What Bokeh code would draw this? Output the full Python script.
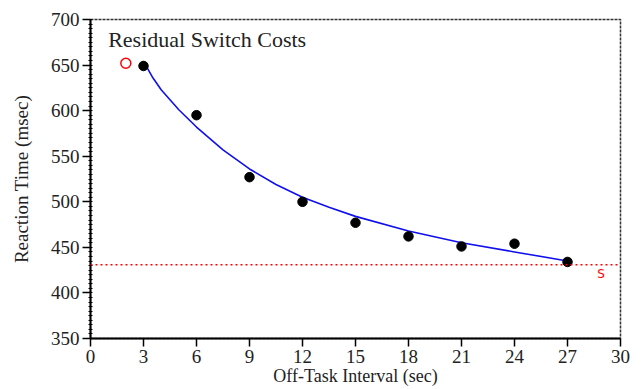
from bokeh.plotting import figure
from bokeh.models import FixedTicker, SingleIntervalTicker, Span
from bokeh.core.properties import value
from bokeh.embed import file_html
from bokeh.resources import INLINE

# Data
interval = [3, 6, 9, 12, 15, 18, 21, 24, 27]
rt = [649, 595, 527, 500, 477, 462, 451, 454, 434]

outlier_x = [2]
outlier_y = [652]

fit_x = [3, 3.5, 4, 5, 6, 7.5, 9, 10.5, 12, 13.5, 15, 18, 21, 24, 27]
fit_y = [654, 637, 623, 601, 582, 557, 536, 519, 505, 494, 484, 468, 455, 445, 435]

baseline_rt = 431
s_label_x = [28.9]
s_label_y = [421]
s_label = ["S"]

x_ticks = [0, 3, 6, 9, 12, 15, 18, 21, 24, 27, 30]

title_text = ["Residual Switch Costs"]
title_x = [1.0]
title_y = [692]

x_title = "Off-Task Interval (sec)"
y_title = "Reaction Time (msec)"

SERIF = "Liberation Serif"

p = figure(width=638, height=389, x_range=(0, 30), y_range=(350, 700),
           output_backend="svg", toolbar_location=None,
           min_border_left=90, min_border_right=18, min_border_top=19,
           min_border_bottom=51)
p.background_fill_color = "white"
p.border_fill_color = "white"
p.xgrid.visible = False
p.ygrid.visible = False
p.outline_line_color = "#333333"
p.outline_line_dash = "3 1"
p.outline_line_width = 1.5

# axes
p.xaxis.ticker = FixedTicker(ticks=x_ticks, minor_ticks=[])
p.yaxis.ticker = SingleIntervalTicker(interval=50, num_minor_ticks=10)
for ax in (p.xaxis[0], p.yaxis[0]):
    ax.axis_line_width = 2
    ax.axis_line_color = "black"
    ax.major_tick_line_color = "black"
    ax.major_tick_line_width = 1.5
    ax.major_tick_out = 8
    ax.major_tick_in = 0
    ax.major_label_text_font = SERIF
    ax.major_label_text_font_size = "19px"
    ax.major_label_text_color = "#222222"
    ax.axis_label_text_font = SERIF
    ax.axis_label_text_font_size = "19px"
    ax.axis_label_text_font_style = "normal"
    ax.axis_label_text_color = "#222222"
p.yaxis.minor_tick_line_color = "black"
p.yaxis.minor_tick_in = 2
p.yaxis.minor_tick_out = 2
p.xaxis.minor_tick_line_color = None
p.yaxis.axis_label = y_title
p.xaxis.axis_label = x_title
p.xaxis.major_label_standoff = 3
p.xaxis.axis_label_standoff = 0
p.xaxis.axis_label_text_font_size = "18px"
p.yaxis.major_label_standoff = 3
p.yaxis.axis_label_standoff = 16

# baseline
p.add_layout(Span(location=baseline_rt, dimension="width", line_color="red",
                  line_dash="2 3", line_width=1.5))

# fitted curve
p.line(fit_x, fit_y, line_color="#1010ee", line_width=1.6)

# data
p.scatter(interval, rt, size=9.5, fill_color="black", line_color="black")
p.scatter(outlier_x, outlier_y, size=10, fill_color=None, line_color="red", line_width=1.5)

# labels
p.text(s_label_x, s_label_y, text=s_label, text_color="red",
       text_font=value("DejaVu Sans"), text_font_size="12px",
       text_align="center", text_baseline="middle")
p.text(title_x, title_y, text=title_text, text_color="#222222",
       text_font=value(SERIF), text_font_size="22px",
       text_align="left", text_baseline="top")

open("out.html", "w").write(file_html(p, INLINE))
